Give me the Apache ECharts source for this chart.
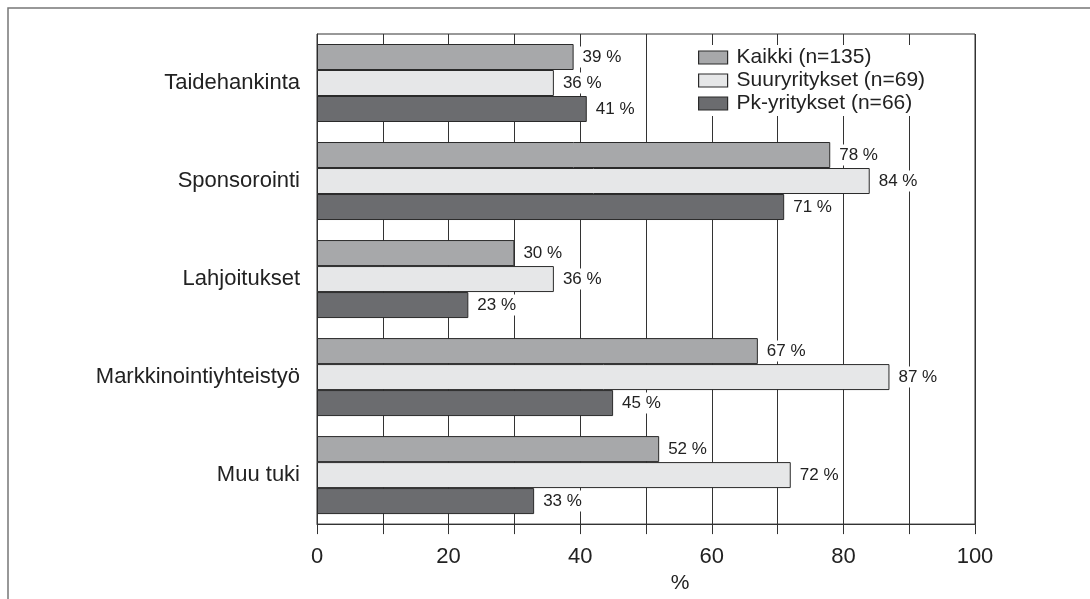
<!DOCTYPE html>
<html>
<head>
<meta charset="utf-8">
<script src="https://cdn.jsdelivr.net/npm/echarts@6/dist/echarts.min.js"></script>
<style>
  html, body { margin: 0; padding: 0; background: #fff; }
</style>
</head>
<body>
<div id="chart-main" style="width: 1090px;height:599px;"></div>
<script>
const categories = ["Taidehankinta", "Sponsorointi", "Lahjoitukset", "Markkinointiyhteistyö", "Muu tuki"];
const seriesNames = ["Kaikki (n=135)", "Suuryritykset (n=69)", "Pk-yritykset (n=66)"];
const kaikki = [39, 78, 30, 67, 52];
const suuryritykset = [36, 84, 36, 87, 72];
const pkYritykset = [41, 71, 23, 45, 33];
const xTickLabels = [0, 20, 40, 60, 80, 100];

const font = '"Liberation Sans Narrow", "Liberation Sans", Arial, sans-serif';
const colors = ["#a7a8aa", "#e6e7e8", "#6b6c6f"];
const seriesData = [kaikki, suuryritykset, pkYritykset];

const myChart = echarts.init(document.getElementById("chart-main"));

const option = {
  animation: false,
  backgroundColor: "#fff",
  textStyle: { fontFamily: font },
  graphic: [
    {
      type: "rect",
      shape: { x: 8, y: 8, width: 1100, height: 620 },
      style: { fill: "none", stroke: "#777", lineWidth: 1.5 },
      z: 100
    }
  ],
  grid: {
    left: 317,
    top: 34,
    right: 115,
    bottom: 72,
    show: true,
    borderColor: "#333",
    borderWidth: 1
  },
  legend: {
    orient: "vertical",
    left: 692,
    top: 45,
    padding: [2, 6],
    backgroundColor: "#fff",
    icon: "rect",
    itemWidth: 29,
    itemHeight: 13,
    itemGap: 2,
    z: 10,
    data: seriesNames,
    itemStyle: { borderColor: "#2a2a2a", borderWidth: 1.2 },
    textStyle: { fontFamily: font, fontSize: 21, color: "#222", padding: [0, 0, 0, 4] }
  },
  xAxis: {
    type: "value",
    min: 0,
    max: 100,
    interval: 10,
    name: "%",
    nameLocation: "middle",
    nameGap: 46,
    nameTextStyle: { fontFamily: font, fontSize: 21, color: "#222", padding: [0, 0, 0, 68] },
    axisLine: { show: true, lineStyle: { color: "#333", width: 1 } },
    axisTick: { show: true, length: 10, lineStyle: { color: "#333", width: 1 } },
    axisLabel: {
      margin: 22,
      fontFamily: font,
      fontSize: 22,
      color: "#222",
      formatter: function (v) {
        return xTickLabels.indexOf(v) >= 0 ? String(v) : "";
      }
    },
    splitLine: { show: true, lineStyle: { color: "#333", width: 1 } }
  },
  yAxis: {
    type: "category",
    inverse: true,
    data: categories,
    axisLine: { show: true, lineStyle: { color: "#333", width: 1 } },
    axisTick: { show: false },
    axisLabel: { margin: 17, fontFamily: font, fontSize: 22, color: "#222" }
  },
  series: seriesNames.map(function (name, i) {
    return {
      name: name,
      type: "bar",
      data: seriesData[i],
      barWidth: 26,
      barGap: "0%",
      itemStyle: { color: colors[i], borderColor: "#2a2a2a", borderWidth: 1 },
      label: {
        show: true,
        position: "right",
        distance: 6,
        formatter: "{c} %",
        fontFamily: font,
        fontSize: 17,
        color: "#222",
        backgroundColor: "#fff",
        padding: [2, 3]
      },
      z: 3
    };
  })
};

myChart.setOption(option);
</script>
</body>
</html>
